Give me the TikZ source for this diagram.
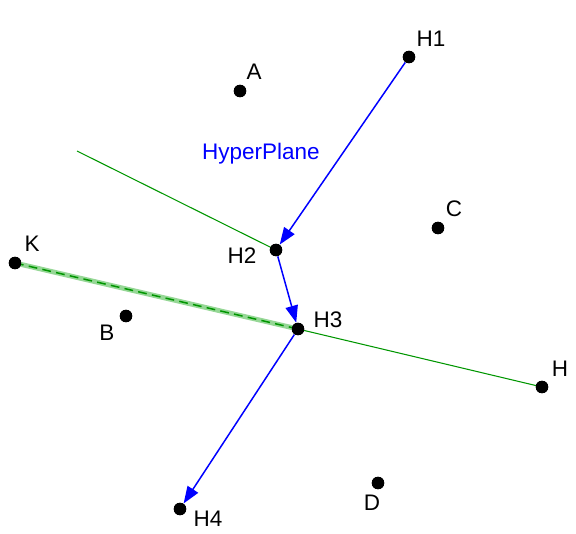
\documentclass[tikz,border=0pt]{standalone}
\usepackage{fontspec}
\setmainfont{Liberation Sans}
\usetikzlibrary{arrows.meta}
\definecolor{planegreen}{RGB}{0,150,0}
\definecolor{pathgreen}{RGB}{150,215,150}
\begin{document}
\begin{tikzpicture}[x=0.02cm,y=-0.02cm,
  dot/.style={circle,fill=black,inner sep=0pt,minimum size=0.25cm},
  lbl/.style={font=\fontsize{12.8}{14}\selectfont},
  step arrow/.style={blue,line width=0.85pt,-{Triangle[length=0.34cm,width=0.25cm]}}]
\useasboundingbox (0,0) rectangle (576,534);
% points
\node[dot] (A) at (240,91) {};
\node[dot] (H1) at (409,57) {};
\node[dot] (C) at (438,228) {};
\node[dot] (H2) at (276,250) {};
\node[dot] (K) at (15,263) {};
\node[dot] (B) at (126,316) {};
\node[dot] (H3) at (298,329) {};
\node[dot] (H) at (542,387) {};
\node[dot] (D) at (378,483) {};
\node[dot] (H4) at (180,509) {};
\coordinate (P0) at (77,151);
% hyperplane
\draw[planegreen,line width=0.6pt] (P0) -- (H2.center);
\draw[planegreen,line width=0.6pt] (H3.center) -- (H.center);
\draw[pathgreen,line width=2.8pt] (K.center) -- (H3.center);
\draw[planegreen,line width=0.85pt,dash pattern=on 5pt off 3pt] (K.center) -- (H3.center);
% steps
\draw[step arrow] (H1) -- (H2);
\draw[step arrow] (H2) -- (H3);
\draw[step arrow] (H3) -- (H4);
\foreach \p in {A,H1,C,H2,K,B,H3,H,D,H4} \node[dot] at (\p) {};
% labels
\node[lbl] (lA) at (254,72) {A};
\node[lbl] (lH1) at (431,39) {H1};
\node[lbl] (lC) at (454,209) {C};
\node[lbl] (lH2) at (242,256) {H2};
\node[lbl] (lK) at (32,244) {K};
\node[lbl] (lB) at (107,333) {B};
\node[lbl] (lH3) at (328,320) {H3};
\node[lbl] (lH) at (560,369) {H};
\node[lbl] (lD) at (372,503) {D};
\node[lbl] (lH4) at (208,519) {H4};
\node[lbl,blue] (lplane) at (261,154) {HyperPlane};
\end{tikzpicture}
\end{document}
